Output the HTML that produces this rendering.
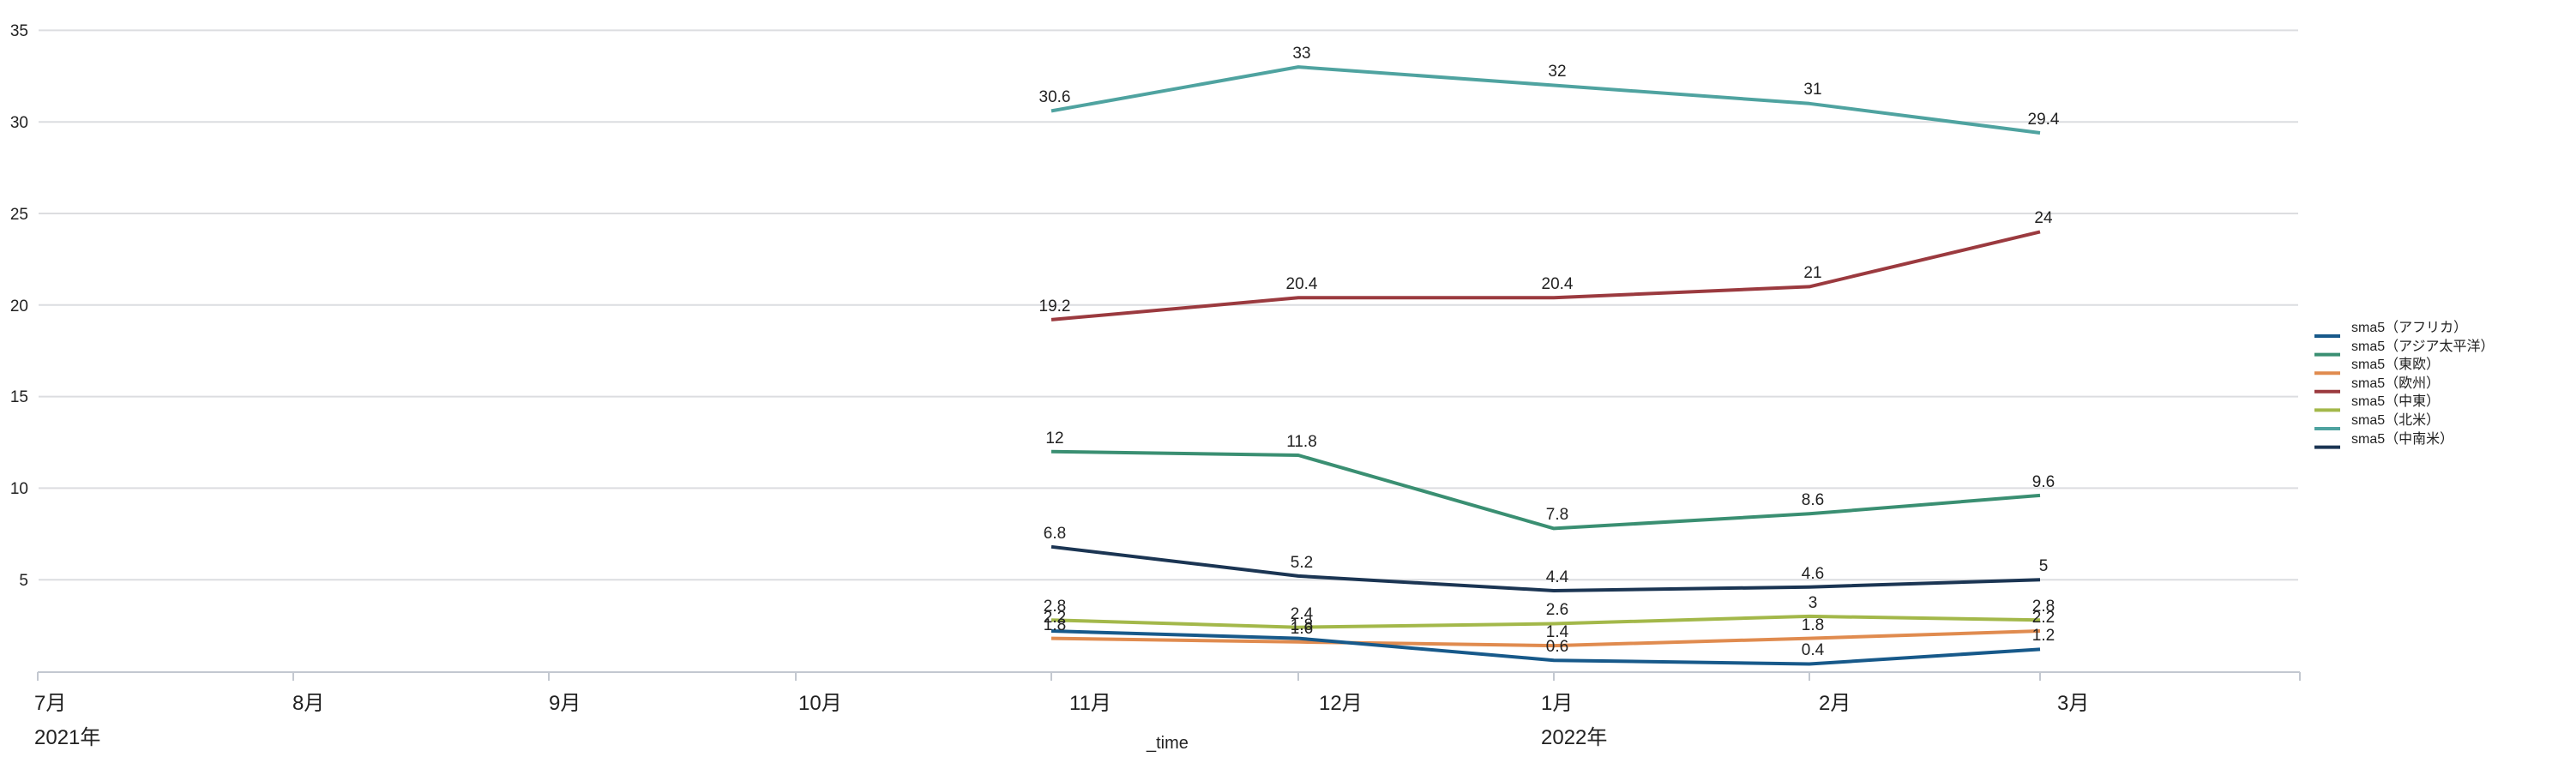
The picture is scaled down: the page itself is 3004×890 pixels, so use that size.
<!DOCTYPE html>
<html><head><meta charset="utf-8"><style>
body{margin:0;background:#fff}
svg{display:block}
text{font-family:"Liberation Sans","Noto Sans CJK JP",sans-serif;fill:#222}
.yl{font-size:19px;text-anchor:end}
.dl{font-size:19px;text-anchor:middle}
.xl{font-size:24px}
.lg{font-size:16px}
</style></head><body>
<svg width="3004" height="890" viewBox="0 0 3004 890">
<g stroke="#dcdde0" stroke-width="2">
<line x1="45" y1="35.4" x2="2680" y2="35.4"/><line x1="45" y1="142.2" x2="2680" y2="142.2"/>
<line x1="45" y1="249" x2="2680" y2="249"/><line x1="45" y1="355.8" x2="2680" y2="355.8"/>
<line x1="45" y1="462.6" x2="2680" y2="462.6"/><line x1="45" y1="569.4" x2="2680" y2="569.4"/>
<line x1="45" y1="676.2" x2="2680" y2="676.2"/>
</g>
<g class="yl">
<text x="33" y="42">35</text><text x="33" y="149">30</text><text x="33" y="256">25</text>
<text x="33" y="363">20</text><text x="33" y="469">15</text><text x="33" y="576">10</text><text x="33" y="683">5</text>
</g>
<g stroke="#c3c8d0" stroke-width="2" fill="none">
<line x1="44" y1="784" x2="2682" y2="784"/>
<line x1="44" y1="784" x2="44" y2="794"/><line x1="342" y1="784" x2="342" y2="794"/>
<line x1="640" y1="784" x2="640" y2="794"/><line x1="928" y1="784" x2="928" y2="794"/>
<line x1="1226" y1="784" x2="1226" y2="794"/><line x1="1514" y1="784" x2="1514" y2="794"/>
<line x1="1812" y1="784" x2="1812" y2="794"/><line x1="2110" y1="784" x2="2110" y2="794"/>
<line x1="2379" y1="784" x2="2379" y2="794"/><line x1="2682" y1="784" x2="2682" y2="794"/>
</g>
<g class="xl">
<text x="40" y="828">7月</text><text x="341" y="828">8月</text><text x="640" y="828">9月</text>
<text x="931" y="828">10月</text><text x="1247" y="828">11月</text><text x="1538" y="828">12月</text>
<text x="1797" y="828">1月</text><text x="2121" y="828">2月</text><text x="2399" y="828">3月</text>
<text x="40" y="868">2021年</text><text x="1797" y="868">2022年</text>
<text x="1337" y="873" style="font-size:20px">_time</text>
</g>
<g fill="none" stroke-width="4" stroke-linejoin="round">
<polyline stroke="#4fa3a0" points="1226,129.4 1514,78.1 1812,99.5 2110,120.8 2379,155"/>
<polyline stroke="#9b3a3f" points="1226,372.9 1514,347.3 1812,347.3 2110,334.4 2379,270.4"/>
<polyline stroke="#3a8f72" points="1226,526.7 1514,531 1812,616.4 2110,599.3 2379,577.9"/>
<polyline stroke="#1b3553" points="1226,637.8 1514,671.9 1812,689 2110,684.7 2379,676.2"/>
<polyline stroke="#a3b84a" points="1226,723.2 1514,731.7 1812,727.5 2110,718.9 2379,723.2"/>
<polyline stroke="#e08b4f" points="1226,744.6 1514,748.8 1812,753.1 2110,744.6 2379,736"/>
<polyline stroke="#17598a" points="1226,736 1514,744.6 1812,770.2 2110,774.5 2379,757.4"/>
</g>
<g class="dl">
<text x="1230" y="119">30.6</text><text x="1518" y="68">33</text><text x="1816" y="89">32</text><text x="2114" y="110">31</text><text x="2383" y="145">29.4</text>
<text x="1230" y="363">19.2</text><text x="1518" y="337">20.4</text><text x="1816" y="337">20.4</text><text x="2114" y="324">21</text><text x="2383" y="260">24</text>
<text x="1230" y="517">12</text><text x="1518" y="521">11.8</text><text x="1816" y="606">7.8</text><text x="2114" y="589">8.6</text><text x="2383" y="568">9.6</text>
<text x="1230" y="628">6.8</text><text x="1518" y="662">5.2</text><text x="1816" y="679">4.4</text><text x="2114" y="675">4.6</text><text x="2383" y="666">5</text>
<text x="1230" y="713">2.8</text><text x="1518" y="722">2.4</text><text x="1816" y="717">2.6</text><text x="2114" y="709">3</text><text x="2383" y="713">2.8</text>
<text x="1230" y="726">2.2</text><text x="1518" y="735">1.8</text><text x="1816" y="760">0.6</text><text x="2114" y="764">0.4</text><text x="2383" y="747">1.2</text>
<text x="1230" y="735">1.8</text><text x="1518" y="739">1.6</text><text x="1816" y="743">1.4</text><text x="2114" y="735">1.8</text><text x="2383" y="726">2.2</text>
</g>
<g stroke-width="4">
<line x1="2699" y1="392" x2="2729" y2="392" stroke="#17598a"/>
<line x1="2699" y1="413.6" x2="2729" y2="413.6" stroke="#3a8f72"/>
<line x1="2699" y1="435.2" x2="2729" y2="435.2" stroke="#e08b4f"/>
<line x1="2699" y1="456.8" x2="2729" y2="456.8" stroke="#9b3a3f"/>
<line x1="2699" y1="478.4" x2="2729" y2="478.4" stroke="#a3b84a"/>
<line x1="2699" y1="500" x2="2729" y2="500" stroke="#4fa3a0"/>
<line x1="2699" y1="521.6" x2="2729" y2="521.6" stroke="#1b3553"/>
</g>
<g class="lg">
<text x="2742" y="387">sma5（アフリカ）</text>
<text x="2742" y="409">sma5（アジア太平洋）</text>
<text x="2742" y="430">sma5（東欧）</text>
<text x="2742" y="452">sma5（欧州）</text>
<text x="2742" y="473">sma5（中東）</text>
<text x="2742" y="495">sma5（北米）</text>
<text x="2742" y="517">sma5（中南米）</text>
</g>
</svg>
</body></html>
